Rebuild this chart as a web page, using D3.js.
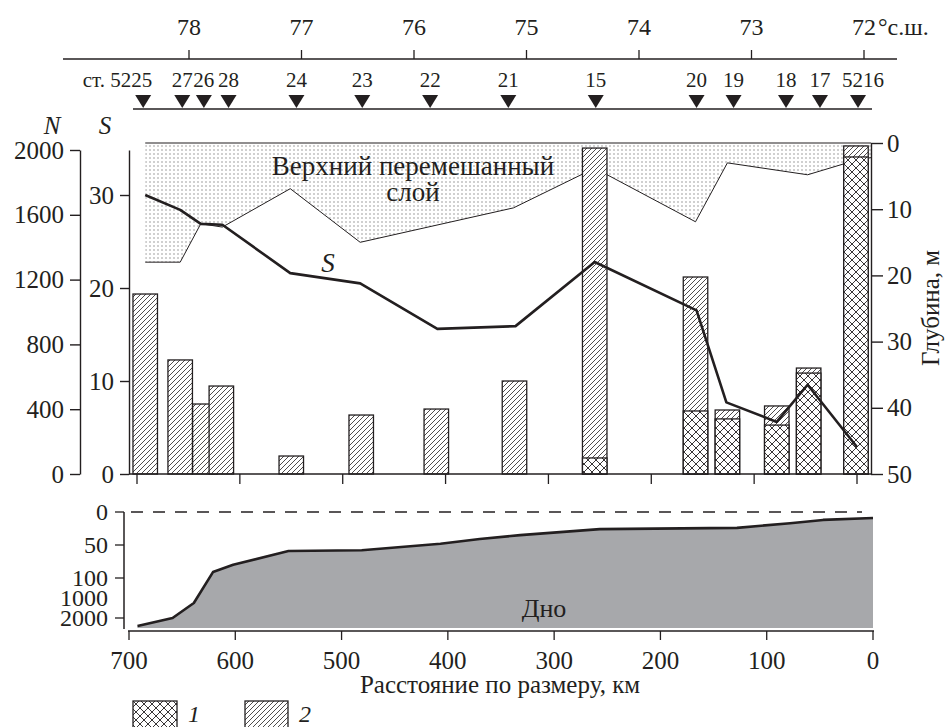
<!DOCTYPE html>
<meta charset="utf-8">
<script src="https://d3js.org/d3.v7.min.js"></script>
<body style="margin:0">
<svg id="chart" width="945" height="727" font-family="Liberation Serif" style="display:block;font-family:'Liberation Serif'"></svg>
<script>

// stations along the section (km from the end point)
var stations = ["ст. 5225","27","26","28","24","23","22","21","15","20","19","18","17","5216"]
var stationKm = [694,656,635,611,545,481,415,339,254,156,120,69,36,-1]
var latTicks = [78,77,76,75,74,73,72]

// abundance bars: total N and part of group 1
var barKm = [692,658,634,618,550,482,409,333,255,157,126,78,47,1]
var barTotal = [1111,704,432,543,111,364,401,574,2012,1216,395,420,654,2025]
var barN1 = [0,0,0,0,0,0,0,0,99,389,340,302,623,1957]

// salinity S
var salKm = [692,658,638,617,551,483,408,332,255,156,127,78,48,0]
var salS = [30.0,28.4,26.9,26.8,21.6,20.5,15.6,15.9,22.8,17.6,7.7,5.6,9.6,2.9]

// lower boundary of the upper mixed layer, m
var mixKm = [692,658,638,617,551,483,334,255,157,126,48,1,-14]
var mixDepth = [18.0,18.0,12.2,12.7,6.9,15.0,9.8,3.8,11.9,3.0,4.8,2.6,2.2]

// bottom profile, m
var bottomKm = [692,659,639,621,602,550,481,407,370,332,257,128,78,47,0]
var bottomDepth = [2400,2000,1250,91,80,59,58,48,41,35,26,24,17,12,9]

var nTicks = [0,400,800,1200,1600,2000]
var sTicks = [0,10,20,30]
var depthTicks = [0,10,20,30,40,50]
var kmTicks = [700,600,500,400,300,200,100,0]
var botLabels = [0,50,100,1000,2000]
var botTicks = [0,50,100,2000]

var ink = "#231f20"
var svg = d3.select("#chart")

// text helper: serif face, set right when the text is made
function txt(sel, size) {
  return sel.attr("font-family","Liberation Serif")
    .style("font-family","'Liberation Serif'")
    .style("font-size", size + "px")
    .attr("fill", ink)
}

// patterns
var defs = svg.append("defs")
var dots = defs.append("pattern").attr("id","dots").attr("patternUnits","userSpaceOnUse")
  .attr("width",4).attr("height",4)
dots.append("rect").attr("width",4).attr("height",4).attr("fill","#fff")
dots.append("rect").attr("x",1.5).attr("y",1.5).attr("width",1).attr("height",1).attr("fill","#444")

var hatch = defs.append("pattern").attr("id","hatch").attr("patternUnits","userSpaceOnUse")
  .attr("width",5).attr("height",5)
hatch.append("rect").attr("width",5).attr("height",5).attr("fill","#fff")
hatch.append("path").attr("d","M0,5L5,0M-1,1L1,-1M4,6L6,4")
  .attr("stroke",ink).attr("stroke-width",0.8)

var cross = defs.append("pattern").attr("id","cross").attr("patternUnits","userSpaceOnUse")
  .attr("width",8).attr("height",8)
cross.append("rect").attr("width",8).attr("height",8).attr("fill","#fff")
cross.append("path").attr("d","M0,0L8,8M8,0L0,8")
  .attr("stroke",ink).attr("stroke-width",0.9)

// scales
var xLat = d3.scaleLinear().domain([78,72]).range([189,864])
var xTop = d3.scaleLinear().domain([700,0]).range([137,857])
var xBot = d3.scaleLinear().domain([700,0]).range([129,873])
var yN = d3.scaleLinear().domain([0,2000]).range([474,150])
var yS = d3.scaleLinear().domain([0,30]).range([474,195])
var yDepth = d3.scaleLinear().domain([0,50]).range([143,474])
var yBot = d3.scaleLinear().domain([0,50,100,1000,2000,2500]).range([512,545,578,598,618,628])

// latitude axis
svg.append("line").attr("x1",63).attr("x2",897).attr("y1",59).attr("y2",59)
  .attr("stroke",ink).attr("stroke-width",1.5)
svg.selectAll(".lat").data(latTicks).enter().append("line")
  .attr("x1",function(d){return xLat(d)}).attr("x2",function(d){return xLat(d)})
  .attr("y1",50).attr("y2",59).attr("stroke",ink).attr("stroke-width",1.3)
txt(svg.selectAll(".latl").data(latTicks).enter().append("text"), 24)
  .attr("x",function(d){return xLat(d)}).attr("y",35)
  .attr("text-anchor","middle")
  .text(function(d){return d})
txt(svg.append("text"), 24).attr("x",878).attr("y",35).text("°с.ш.")

// stations
svg.append("line").attr("x1",133).attr("x2",872).attr("y1",109).attr("y2",109)
  .attr("stroke",ink).attr("stroke-width",1.5)
svg.selectAll(".tri").data(stationKm).enter().append("path")
  .attr("d",function(d){var x=xTop(d); return "M"+(x-8)+",95L"+(x+8)+",95L"+x+",108Z"})
  .attr("fill",ink)
txt(svg.selectAll(".stl").data(stations).enter().append("text"), 21)
  .attr("x",function(d,i){
    var x = xTop(stationKm[i])
    if(i==0) return x+9
    if(i==stations.length-1) return x-16
    return x})
  .attr("y",87)
  .attr("text-anchor",function(d,i){ return i==0 ? "end" : (i==stations.length-1 ? "start" : "middle")})
  .text(function(d){return d})

txt(svg.append("text"), 25).style("font-style","italic")
  .attr("x",52).attr("y",134).attr("text-anchor","middle").text("N")
txt(svg.append("text"), 25).style("font-style","italic")
  .attr("x",105).attr("y",134).attr("text-anchor","middle").text("S")

// upper mixed layer
var mixPts = mixKm.map(function(d,i){return [d, mixDepth[i]]})
svg.append("path").datum(mixPts)
  .attr("d", d3.area().x(function(d){return xTop(d[0])}).y0(yDepth(0)).y1(function(d){return yDepth(d[1])}))
  .attr("fill","url(#dots)")
svg.append("path").datum(mixPts)
  .attr("d", d3.line().x(function(d){return xTop(d[0])}).y(function(d){return yDepth(d[1])}))
  .attr("fill","none").attr("stroke",ink).attr("stroke-width",1)
svg.append("line").attr("x1",xTop(692)).attr("x2",871).attr("y1",yDepth(0)).attr("y2",yDepth(0))
  .attr("stroke",ink).attr("stroke-width",1.2)

txt(svg.append("text"), 27).attr("x",413).attr("y",175).attr("text-anchor","middle")
  .text("Верхний перемешанный")
txt(svg.append("text"), 27).attr("x",413).attr("y",201).attr("text-anchor","middle")
  .text("слой")

// bars
var bw = 24.5
svg.selectAll(".bar").data(barTotal).enter().append("rect")
  .attr("x",function(d,i){return xTop(barKm[i])-bw/2})
  .attr("y",function(d){return yN(d)})
  .attr("width",bw)
  .attr("height",function(d){return yN(0)-yN(d)})
  .attr("fill","url(#hatch)").attr("stroke",ink).attr("stroke-width",1.3)
svg.selectAll(".bar1").data(barN1.filter(function(d){return d>0})).enter().append("rect")
  .attr("x",function(d){return xTop(barKm[barN1.indexOf(d)])-bw/2})
  .attr("y",function(d){return yN(d)})
  .attr("width",bw)
  .attr("height",function(d){return yN(0)-yN(d)})
  .attr("fill","url(#cross)").attr("stroke",ink).attr("stroke-width",1.3)

// salinity line
svg.append("path").datum(salKm.map(function(d,i){return [d, salS[i]]}))
  .attr("d", d3.line().x(function(d){return xTop(d[0])}).y(function(d){return yS(d[1])}))
  .attr("fill","none").attr("stroke",ink).attr("stroke-width",2.6).attr("stroke-linejoin","round")
txt(svg.append("text"), 27).style("font-style","italic")
  .attr("x",328).attr("y",272).attr("text-anchor","middle").text("S")

// left and right axes
var axN = svg.append("g").attr("transform","translate(80,0)")
  .call(d3.axisLeft(yN).tickValues(nTicks).tickFormat(d3.format("d")).tickSize(10).tickSizeOuter(0).tickPadding(6))
var axS = svg.append("g").attr("transform","translate(129,0)")
  .call(d3.axisLeft(d3.scaleLinear().domain([0,34.84]).range([474,150])).tickValues(sTicks).tickSize(9).tickSizeOuter(0).tickPadding(6))
var axD = svg.append("g").attr("transform","translate(871,0)")
  .call(d3.axisRight(yDepth).tickValues(depthTicks).tickSize(12).tickSizeOuter(0).tickPadding(4))
;[axN,axS,axD].forEach(function(a){
  a.attr("font-family","Liberation Serif").attr("font-size",null)
  a.selectAll("path,line").attr("stroke",ink).attr("stroke-width",1.4)
  txt(a.selectAll("text"), 25)
})
txt(svg.append("text"), 25).attr("transform","translate(930,308) rotate(-90)")
  .attr("text-anchor","middle").attr("dy","0.35em").text("Глубина, м")

// distance axis, upper panel
svg.append("line").attr("x1",129).attr("x2",871).attr("y1",474).attr("y2",474)
  .attr("stroke",ink).attr("stroke-width",1.5)
svg.selectAll(".tt").data(kmTicks).enter().append("line")
  .attr("x1",function(d){return xTop(d)}).attr("x2",function(d){return xTop(d)})
  .attr("y1",474).attr("y2",484).attr("stroke",ink).attr("stroke-width",1.3)

// bottom panel
var botPts = bottomKm.map(function(d,i){return [d, bottomDepth[i]]})
svg.append("path").datum(botPts)
  .attr("d", d3.area().x(function(d){return xBot(d[0])}).y0(yBot(2500)).y1(function(d){return yBot(d[1])}))
  .attr("fill","#a7a8ab")
svg.append("path").datum(botPts)
  .attr("d", d3.line().x(function(d){return xBot(d[0])}).y(function(d){return yBot(d[1])}))
  .attr("fill","none").attr("stroke",ink).attr("stroke-width",2.6).attr("stroke-linejoin","round")
svg.append("line").attr("x1",131).attr("x2",862).attr("y1",yBot(0)).attr("y2",yBot(0))
  .attr("stroke",ink).attr("stroke-width",1.4).attr("stroke-dasharray","12,10")
txt(svg.append("text"), 26).attr("x",544).attr("y",617).attr("text-anchor","middle")
  .text("Дно")

svg.append("line").attr("x1",124).attr("x2",124).attr("y1",yBot(0)).attr("y2",629)
  .attr("stroke",ink).attr("stroke-width",1.5)
svg.selectAll(".bt").data(botTicks).enter().append("line")
  .attr("x1",115).attr("x2",124)
  .attr("y1",function(d){return yBot(d)}).attr("y2",function(d){return yBot(d)})
  .attr("stroke",ink).attr("stroke-width",1.3)
txt(svg.selectAll(".bl").data(botLabels).enter().append("text"), 24)
  .attr("x",108).attr("y",function(d){return yBot(d)}).attr("dy","0.33em")
  .attr("text-anchor","end")
  .text(function(d){return d})

svg.append("line").attr("x1",128).attr("x2",874).attr("y1",631).attr("y2",631)
  .attr("stroke",ink).attr("stroke-width",1.5)
svg.selectAll(".bx").data(kmTicks).enter().append("line")
  .attr("x1",function(d){return xBot(d)}).attr("x2",function(d){return xBot(d)})
  .attr("y1",631).attr("y2",640).attr("stroke",ink).attr("stroke-width",1.3)
txt(svg.selectAll(".bxl").data(kmTicks).enter().append("text"), 25)
  .attr("x",function(d){return xBot(d)}).attr("y",669).attr("text-anchor","middle")
  .text(function(d){return d})
txt(svg.append("text"), 25).attr("x",500).attr("y",693).attr("text-anchor","middle")
  .text("Расстояние по размеру, км")

// legend
svg.append("rect").attr("x",133).attr("y",701).attr("width",44).attr("height",28)
  .attr("fill","url(#cross)").attr("stroke",ink).attr("stroke-width",1.3)
txt(svg.append("text"), 24).style("font-style","italic")
  .attr("x",194).attr("y",722).attr("text-anchor","middle").text("1")
svg.append("rect").attr("x",245).attr("y",701).attr("width",43).attr("height",28)
  .attr("fill","url(#hatch)").attr("stroke",ink).attr("stroke-width",1.3)
txt(svg.append("text"), 24).style("font-style","italic")
  .attr("x",305).attr("y",722).attr("text-anchor","middle").text("2")

</script>
</body>
